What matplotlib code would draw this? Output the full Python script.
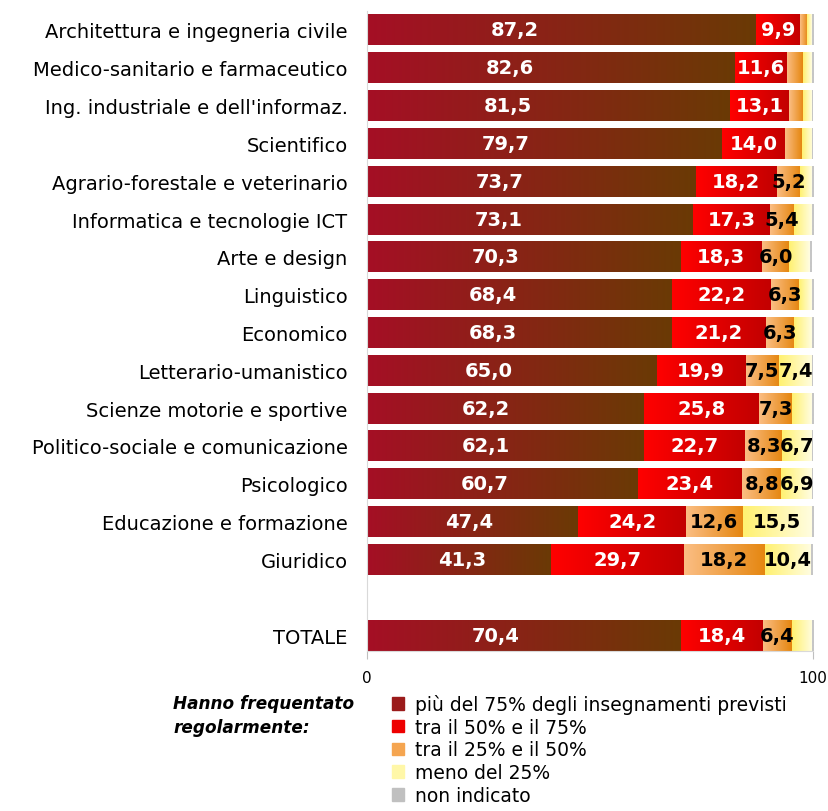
import matplotlib
matplotlib.use("Agg")
import matplotlib.pyplot as plt
import numpy as np
from matplotlib.colors import LinearSegmentedColormap
from matplotlib.patches import Patch

# data (percent), top to bottom
categories = ["Architettura e ingegneria civile", "Medico-sanitario e farmaceutico",
              "Ing. industriale e dell'informaz.", "Scientifico",
              "Agrario-forestale e veterinario", "Informatica e tecnologie ICT",
              "Arte e design", "Linguistico", "Economico", "Letterario-umanistico",
              "Scienze motorie e sportive", "Politico-sociale e comunicazione",
              "Psicologico", "Educazione e formazione", "Giuridico", "TOTALE"]
over75 = [87.2, 82.6, 81.5, 79.7, 73.7, 73.1, 70.3, 68.4, 68.3, 65.0, 62.2, 62.1, 60.7, 47.4, 41.3, 70.4]
from50to75 = [9.9, 11.6, 13.1, 14.0, 18.2, 17.3, 18.3, 22.2, 21.2, 19.9, 25.8, 22.7, 23.4, 24.2, 29.7, 18.4]
from25to50 = [1.6, 3.5, 3.2, 3.8, 5.2, 5.4, 6.0, 6.3, 6.3, 7.5, 7.3, 8.3, 8.8, 12.6, 18.2, 6.4]
under25 = [1.0, 2.0, 2.0, 2.3, 2.6, 3.9, 4.7, 2.8, 3.9, 7.4, 4.4, 6.7, 6.9, 15.5, 10.4, 4.5]
not_given = [0.3, 0.3, 0.2, 0.2, 0.3, 0.3, 0.4, 0.3, 0.3, 0.2, 0.3, 0.2, 0.2, 0.3, 0.4, 0.3]

series = [over75, from50to75, from25to50, under25, not_given]
legend_labels = ["più del 75% degli insegnamenti previsti", "tra il 50% e il 75%",
                 "tra il 25% e il 50%", "meno del 25%", "non indicato"]
grads = [("#A50F25", "#6A3A05"), ("#FF0000", "#C20000"), ("#FBBE84", "#E5860F"),
         ("#FFF170", "#FFFDE2"), ("#C6C6C6", "#C6C6C6")]
solid = ["#9B1B1B", "#EE0000", "#F5A550", "#FFF7A8", "#C0C0C0"]
text_col = ["white", "white", "black", "black", "black"]

ypos = np.r_[np.arange(15), 16]

fig = plt.figure(figsize=(8.29, 8.12), dpi=100)
ax = fig.add_axes([367 / 829, 1 - 652 / 812, (813 - 367) / 829, 640 / 812])

h = 0.82
left = np.zeros(len(categories))
gradient = np.linspace(0, 1, 256).reshape(1, -1)
for k, vals in enumerate(series):
    vals = np.array(vals)
    bars = ax.barh(ypos, vals, left=left, height=h, color=solid[k], linewidth=0)
    cmap = LinearSegmentedColormap.from_list("g%d" % k, grads[k])
    for p in bars:
        x0, y0, w, hh = p.get_x(), p.get_y(), p.get_width(), p.get_height()
        im = ax.imshow(gradient, extent=(x0, x0 + w, y0 + hh, y0), aspect="auto",
                       cmap=cmap, interpolation="bilinear", zorder=2)
        im.set_clip_path(p)
    for i, v in enumerate(vals):
        if v >= 5:
            if k == 0:
                xc = 10.7 + 0.257 * v
            else:
                xc = left[i] + v / 2
            ax.text(xc, ypos[i], ("%.1f" % v).replace(".", ","), ha="center", va="center",
                    color=text_col[k], fontsize=14, fontweight="bold", zorder=3)
    left += vals

ax.set_xlim(0, 100)
ax.set_ylim(16.42, -0.5)
ax.set_yticks(ypos)
ax.set_yticklabels(categories, fontsize=14)
ax.tick_params(axis="y", length=0, pad=14)
ax.set_xticks([0, 100])
ax.tick_params(axis="x", colors="#BFBFBF", length=6, labelcolor="black", labelsize=11, pad=8)
for s in ["top", "right"]:
    ax.spines[s].set_visible(False)
ax.spines["left"].set_color("#D9D9D9")
ax.spines["bottom"].set_color("#D9D9D9")

fig.text(173 / 829, 1 - 695 / 812, "Hanno frequentato\nregolarmente:", ha="left", va="top",
         fontsize=12.2, fontweight="bold", fontstyle="italic", linespacing=1.4)
handles = [Patch(facecolor=c, edgecolor=c) for c in solid]
fig.legend(handles, legend_labels, loc="upper left", bbox_to_anchor=(392 / 829, 1 - 695 / 812),
           frameon=False, fontsize=13.5, handlelength=0.65, handleheight=0.65,
           handletextpad=0.6, labelspacing=0.2, borderpad=0, borderaxespad=0)

fig.savefig("out.png", dpi=100)
